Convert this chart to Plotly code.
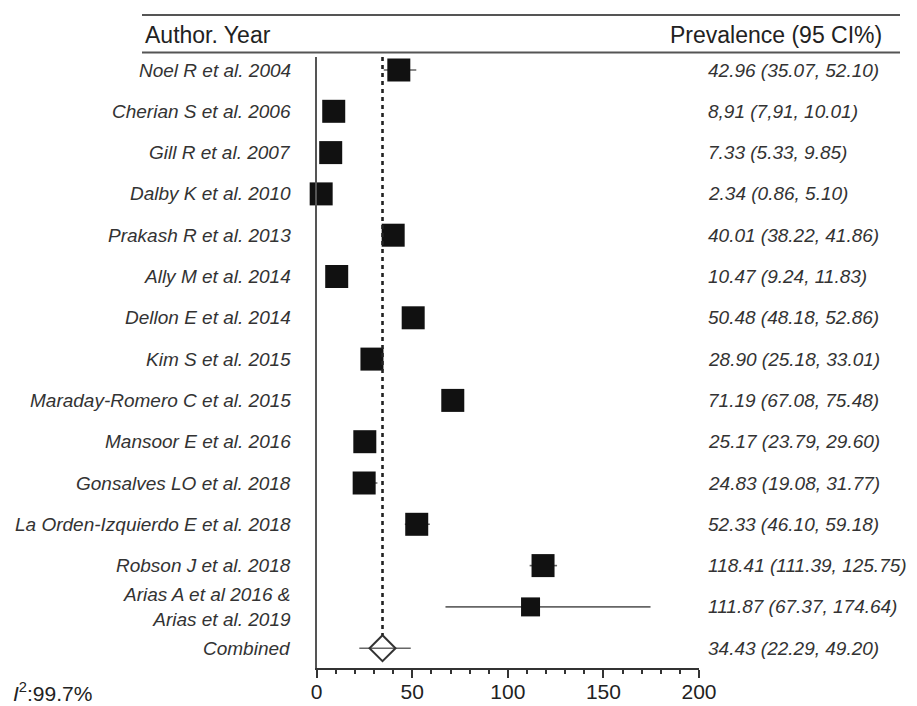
import plotly.graph_objects as go

# ---------------- data ----------------
studies = [
    "Noel R et al. 2004",
    "Cherian S et al. 2006",
    "Gill R et al. 2007",
    "Dalby K et al. 2010",
    "Prakash R et al. 2013",
    "Ally M et al. 2014",
    "Dellon E et al. 2014",
    "Kim S et al. 2015",
    "Maraday-Romero C et al. 2015",
    "Mansoor E et al. 2016",
    "Gonsalves LO et al. 2018",
    "La Orden-Izquierdo E et al. 2018",
    "Robson J et al. 2018",
    "Arias A et al 2016 &<br>Arias et al. 2019",
]
est = [42.96, 8.91, 7.33, 2.34, 40.01, 10.47, 50.48, 28.90, 71.19, 25.17, 24.83, 52.33, 118.41, 111.87]
lo = [35.07, 7.91, 5.33, 0.86, 38.22, 9.24, 48.18, 25.18, 67.08, 23.79, 19.08, 46.10, 111.39, 67.37]
hi = [52.10, 10.01, 9.85, 5.10, 41.86, 11.83, 52.86, 33.01, 75.48, 29.60, 31.77, 59.18, 125.75, 174.64]
ci_text = [
    "42.96 (35.07, 52.10)",
    "8,91 (7,91, 10.01)",
    "7.33 (5.33, 9.85)",
    "2.34 (0.86, 5.10)",
    "40.01 (38.22, 41.86)",
    "10.47 (9.24, 11.83)",
    "50.48 (48.18, 52.86)",
    "28.90 (25.18, 33.01)",
    "71.19 (67.08, 75.48)",
    "25.17 (23.79, 29.60)",
    "24.83 (19.08, 31.77)",
    "52.33 (46.10, 59.18)",
    "118.41 (111.39, 125.75)",
    "111.87 (67.37, 174.64)",
]
combined_label = "Combined"
combined_est = 34.43
combined_lo = 22.29
combined_hi = 49.20
combined_text = "34.43 (22.29, 49.20)"
heterogeneity = "<i>I</i><sup>2</sup>:99.7%"
x_ticks = [0, 50, 100, 150, 200]
header_left = "Author. Year"
header_right = "Prevalence (95 CI%)"

# ---------------- layout helpers ----------------
W, H = 917, 706
rows = list(range(len(studies)))
comb_row = len(studies)
px_row0, px_step = 70.0, 41.3          # pixel y of first row, row spacing
y_top_px, y_bot_px = 57.0, 668.0        # plot area top/bottom (pixels)
x0_px, x1_px = 316.7, 699.0             # pixel x of 0 and 200


def py(p):  # pixel y -> paper
    return (H - p) / H


def px(p):  # pixel x -> paper
    return p / W


yr_top = (y_top_px - px_row0) / px_step
yr_bot = (y_bot_px - px_row0) / px_step

LINE = "#555555"
TXT = "#333333"
FONT = "Liberation Sans, Arial, sans-serif"

fig = go.Figure()

# CI lines (drawn first, beneath the squares)
ci_x, ci_y = [], []
for r, l, h in zip(rows, lo, hi):
    ci_x += [l, h, None]
    ci_y += [r, r, None]
ci_x += [combined_lo, combined_hi, None]
ci_y += [comb_row, comb_row, None]
fig.add_trace(go.Scatter(
    x=ci_x, y=ci_y, mode="lines", line=dict(color="#666666", width=1.6),
    cliponaxis=False, showlegend=False, hoverinfo="skip",
))

# study squares
sizes = [23] * (len(studies) - 1) + [19]
fig.add_trace(go.Scatter(
    x=est, y=rows, mode="markers",
    marker=dict(symbol="square", size=sizes, color="#111111", opacity=1,
                line=dict(width=0)),
    cliponaxis=False, showlegend=False, hoverinfo="skip",
))

# combined diamond
fig.add_trace(go.Scatter(
    x=[combined_est], y=[comb_row], mode="markers",
    marker=dict(symbol="diamond-open", size=20, color="#333333", opacity=1,
                line=dict(width=2)),
    cliponaxis=False, showlegend=False, hoverinfo="skip",
))

shapes = []
# dotted line at combined estimate
shapes.append(dict(type="line", xref="x", yref="y",
                   x0=combined_est, x1=combined_est,
                   y0=yr_top, y1=comb_row - 13 / px_step,
                   line=dict(color="#222222", width=2.6, dash="4px,4px")))
# header rules
for ypx in (15, 52.5):
    shapes.append(dict(type="line", xref="paper", yref="paper",
                       x0=px(142), x1=px(900), y0=py(ypx), y1=py(ypx),
                       line=dict(color=LINE, width=2)))

annotations = []
annotations.append(dict(text=header_left, xref="paper", yref="paper",
                        x=px(143), y=py(34.5), xanchor="left", yanchor="middle",
                        showarrow=False, font=dict(family=FONT, size=23, color="#222222")))
annotations.append(dict(text=header_right, xref="paper", yref="paper",
                        x=px(884), y=py(34.5), xanchor="right", yanchor="middle",
                        showarrow=False, font=dict(family=FONT, size=23, color="#222222")))

all_labels = studies + [combined_label]
all_texts = ci_text + [combined_text]
for i, (lab, txt) in enumerate(zip(all_labels, all_texts)):
    annotations.append(dict(text="<i>%s</i>" % lab, xref="paper", yref="y",
                            x=px(293), y=i, xanchor="right", yanchor="middle", align="right",
                            showarrow=False, font=dict(family=FONT, size=19, color=TXT)))
    annotations.append(dict(text="<i>%s</i>" % txt, xref="paper", yref="y",
                            x=px(706), y=i, xanchor="left", yanchor="middle",
                            showarrow=False, font=dict(family=FONT, size=19, color=TXT)))

annotations.append(dict(text=heterogeneity, xref="paper", yref="paper",
                        x=px(11), y=py(692), xanchor="left", yanchor="middle",
                        showarrow=False, font=dict(family=FONT, size=21, color="#222222")))

fig.update_layout(
    template="none",
    width=W, height=H, autosize=False,
    margin=dict(l=0, r=0, t=0, b=0, pad=0),
    paper_bgcolor="white", plot_bgcolor="white",
    font=dict(family=FONT, color=TXT),
    shapes=shapes, annotations=annotations,
    showlegend=False,
    xaxis=dict(domain=[px(x0_px), px(x1_px)], range=[0, 200], automargin=False,
               tickmode="array", tickvals=x_ticks, ticks="outside", ticklen=8, tickwidth=2,
               tickcolor="#333333", ticklabelstandoff=-4,
               minor=dict(dtick=10, ticks="outside", ticklen=4, tickwidth=1.5, tickcolor="#333333"),
               showline=True, linewidth=2, linecolor="#333333",
               showgrid=False, zeroline=False,
               tickfont=dict(family=FONT, size=21, color="#222222"), fixedrange=True),
    yaxis=dict(domain=[py(y_bot_px), py(y_top_px)], range=[yr_bot, yr_top], automargin=False,
               showline=True, linewidth=1.6, linecolor=LINE,
               showticklabels=False, ticks="", showgrid=False, zeroline=False,
               fixedrange=True),
)

fig.write_html("out.html")
